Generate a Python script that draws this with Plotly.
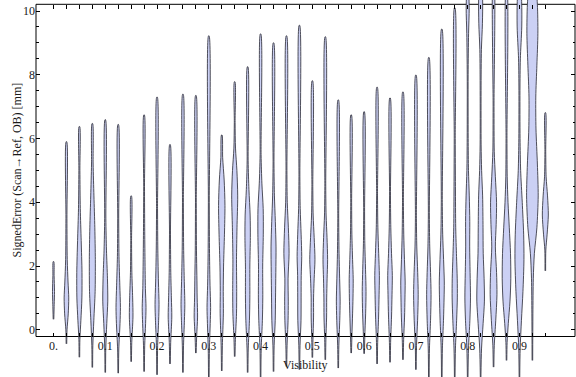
import plotly.graph_objects as go

# ---------------- data ----------------
visibility = [0.0, 0.025, 0.05, 0.075, 0.1, 0.125, 0.15, 0.175, 0.2, 0.225,
              0.25, 0.275, 0.3, 0.325, 0.35, 0.375, 0.4, 0.425, 0.45, 0.475,
              0.5, 0.525, 0.55, 0.575, 0.6, 0.625, 0.65, 0.675, 0.7, 0.725,
              0.75, 0.775, 0.8, 0.825, 0.85, 0.875, 0.9, 0.925, 0.95]

# density profile of each violin: error levels (mm) and relative density
dens_y = [
    [0.33, 0.8, 1.2, 1.7, 2.14],
    [-0.44, 0.0, 0.5, 1.0, 1.5, 2.2, 3.5, 5.9],
    [-0.86, -0.3, 0.3, 1.0, 1.8, 2.8, 3.8, 5.0, 6.375],
    [-1.18, -0.5, 0.3, 1.2, 2.2, 3.2, 4.2, 5.2, 6.47],
    [-1.34, -0.6, 0.2, 0.9, 1.6, 2.5, 3.5, 6.59],
    [-1.36, -0.6, 0.2, 0.7, 1.4, 2.3, 3.5, 6.44],
    [-1.0, -0.4, 0.4, 1.0, 1.8, 2.8, 4.2],
    [-1.31, -0.5, 0.2, 0.7, 1.3, 2.2, 3.2, 4.5, 6.74],
    [-1.41, -0.5, 0.3, 0.8, 1.5, 2.5, 3.8, 7.3],
    [-1.07, -0.4, 0.4, 1.0, 1.8, 3.0, 5.81],
    [-1.34, -0.5, 0.3, 0.8, 1.6, 2.6, 4.0, 7.39],
    [-0.73, -0.2, 0.4, 1.0, 1.7, 2.5, 4.0, 7.35],
    [-1.5, -0.6, 0.2, 0.7, 1.4, 2.4, 4.0, 9.22],
    [-1.29, -0.5, 0.5, 1.2, 2.0, 3.0, 3.9, 4.7, 5.4, 6.11],
    [-0.84, -0.3, 0.5, 1.2, 2.2, 3.2, 4.2, 5.0, 5.7, 6.5, 7.78],
    [-1.34, -0.6, 0.3, 1.0, 2.0, 2.9, 3.6, 4.4, 5.3, 8.25],
    [-1.5, -0.6, 0.3, 1.0, 2.0, 3.0, 3.8, 4.6, 5.5, 9.28],
    [-1.31, -0.5, 0.3, 1.0, 1.8, 2.6, 3.4, 4.2, 5.2, 9.0],
    [-1.15, -0.5, 0.3, 0.9, 1.6, 2.4, 3.2, 4.0, 5.0, 9.22],
    [-1.25, -0.5, 0.3, 1.0, 1.7, 2.3, 3.0, 3.8, 4.8, 9.55],
    [-0.87, -0.3, 0.4, 1.0, 1.6, 2.2, 2.9, 3.6, 4.5, 7.81],
    [-0.94, -0.3, 0.4, 1.0, 1.6, 2.2, 2.9, 3.6, 4.5, 9.19],
    [-1.2, -0.5, 0.3, 0.9, 1.6, 2.4, 3.5, 7.21],
    [-0.73, -0.2, 0.5, 1.0, 1.6, 2.2, 3.0, 4.0, 6.74],
    [-0.75, -0.2, 0.5, 1.2, 1.9, 2.7, 3.7, 6.84],
    [-1.07, -0.4, 0.4, 1.1, 1.7, 2.4, 3.2, 4.2, 7.61],
    [-1.02, -0.4, 0.4, 1.1, 1.7, 2.4, 3.2, 4.2, 7.27],
    [-0.94, -0.3, 0.4, 1.0, 1.5, 2.2, 3.0, 4.0, 7.46],
    [-1.25, -0.5, 0.3, 1.1, 1.8, 2.6, 3.5, 7.99],
    [-1.5, -0.6, 0.3, 1.1, 1.8, 2.6, 3.6, 8.54],
    [-1.5, -0.6, 0.3, 1.0, 1.5, 2.2, 3.0, 4.0, 9.43],
    [-1.5, -0.6, 0.3, 1.0, 1.6, 2.3, 3.2, 4.5, 6.0, 10.1],
    [-1.5, -0.6, 0.3, 1.0, 1.8, 2.6, 3.4, 4.2, 5.0, 6.0, 8.0, 9.3, 10.1, 10.8],
    [-1.5, -0.6, 0.2, 0.9, 1.6, 2.4, 3.2, 4.2, 5.0, 5.8, 7.5, 8.8, 9.6, 10.4, 11.3],
    [-1.17, -0.5, 0.3, 1.1, 1.8, 2.6, 3.3, 4.0, 4.8, 5.6, 7.0, 11.2],
    [-0.96, -0.4, 0.2, 0.9, 1.6, 2.4, 3.2, 4.0, 4.8, 6.0, 10.8],
    [-1.5, -0.6, 0.3, 1.2, 2.2, 3.0, 4.0, 5.0, 6.0, 7.5, 8.5, 9.5, 10.3, 11.2],
    [-0.96, 0.5, 1.6, 2.4, 3.2, 4.2, 5.2, 6.3, 7.3, 8.3, 9.3, 10.2, 11.0, 11.5],
    [1.85, 2.5, 3.0, 3.6, 4.2, 4.8, 5.6, 6.81],
]
dens_w = [
    [0.3, 0.7, 1.0, 0.6, 0.3],
    [0.3, 0.6, 1.8, 2.3, 1.6, 0.8, 0.5, 0.3],
    [0.3, 0.5, 1.5, 2.5, 2.6, 1.8, 0.9, 0.5, 0.3],
    [0.3, 0.5, 1.5, 2.8, 3.0, 2.5, 1.6, 0.8, 0.3],
    [0.3, 0.5, 1.5, 2.5, 2.2, 1.2, 0.6, 0.3],
    [0.3, 0.6, 1.8, 2.2, 1.6, 0.8, 0.5, 0.3],
    [0.3, 0.6, 1.8, 1.5, 0.7, 0.4, 0.3],
    [0.3, 0.6, 1.5, 1.9, 1.3, 0.9, 0.6, 0.4, 0.3],
    [0.3, 0.6, 1.6, 2.0, 1.4, 0.8, 0.5, 0.3],
    [0.3, 0.7, 1.8, 1.4, 0.8, 0.5, 0.3],
    [0.3, 0.6, 1.5, 1.9, 1.3, 0.7, 0.45, 0.3],
    [0.3, 0.8, 1.7, 1.3, 1.0, 0.6, 0.4, 0.3],
    [0.3, 0.6, 1.4, 1.8, 1.2, 0.7, 0.45, 0.3],
    [0.3, 0.6, 1.6, 1.5, 1.8, 2.7, 3.2, 2.4, 0.9, 0.3],
    [0.3, 0.7, 1.8, 2.0, 1.8, 2.3, 3.0, 2.2, 0.8, 0.4, 0.3],
    [0.3, 0.6, 1.8, 2.2, 2.2, 2.7, 2.5, 1.3, 0.5, 0.3],
    [0.3, 0.6, 1.8, 2.2, 2.1, 2.7, 2.6, 1.3, 0.5, 0.3],
    [0.3, 0.6, 1.7, 2.0, 2.3, 2.5, 1.8, 0.9, 0.45, 0.3],
    [0.3, 0.6, 1.6, 1.8, 1.6, 2.6, 1.9, 0.8, 0.45, 0.3],
    [0.3, 0.6, 1.6, 1.7, 1.8, 2.3, 1.7, 0.8, 0.45, 0.3],
    [0.3, 0.6, 1.2, 1.2, 1.8, 2.6, 1.8, 0.8, 0.45, 0.3],
    [0.3, 0.6, 1.3, 1.4, 1.8, 2.3, 1.7, 0.8, 0.45, 0.3],
    [0.3, 0.6, 1.5, 1.9, 1.4, 0.8, 0.45, 0.3],
    [0.3, 0.7, 1.4, 1.8, 2.0, 1.4, 0.7, 0.45, 0.3],
    [0.3, 0.7, 1.5, 1.9, 1.4, 0.7, 0.45, 0.3],
    [0.3, 0.6, 1.5, 2.0, 2.3, 1.6, 0.8, 0.45, 0.3],
    [0.3, 0.6, 1.5, 2.0, 2.3, 1.5, 0.8, 0.45, 0.3],
    [0.3, 0.7, 1.6, 2.0, 2.2, 1.5, 0.8, 0.45, 0.3],
    [0.3, 0.6, 1.7, 2.3, 1.8, 0.9, 0.5, 0.3],
    [0.3, 0.6, 1.7, 2.2, 1.7, 0.9, 0.5, 0.3],
    [0.3, 0.6, 1.7, 2.3, 2.5, 1.8, 0.9, 0.5, 0.3],
    [0.3, 0.7, 1.9, 2.6, 2.5, 1.8, 1.0, 0.7, 0.5, 0.3],
    [0.3, 0.8, 2.2, 2.8, 2.4, 2.0, 2.1, 1.6, 0.8, 0.5, 0.45, 0.9, 1.5, 0.3],
    [0.3, 0.9, 2.5, 3.8, 3.5, 2.6, 2.4, 2.0, 1.0, 0.5, 0.45, 0.8, 1.8, 2.0, 0.3],
    [0.3, 0.7, 2.2, 3.4, 3.0, 1.8, 2.6, 3.0, 1.8, 0.7, 0.45, 0.3],
    [0.3, 0.6, 1.8, 3.5, 4.3, 4.0, 2.8, 1.5, 0.7, 0.45, 0.3],
    [0.3, 0.7, 2.0, 3.5, 4.5, 4.2, 2.8, 1.2, 0.6, 0.5, 0.9, 2.3, 2.2, 0.3],
    [0.3, 0.5, 0.9, 2.0, 4.5, 5.8, 5.0, 3.6, 3.4, 4.5, 5.5, 5.0, 3.0, 0.3],
    [0.3, 0.5, 1.8, 3.0, 2.2, 0.8, 0.4, 0.3],
]

x_ticks = visibility
x_ticktext = ["0." if v == 0 else ("%.1f" % v if round(v * 40) % 4 == 0 else "")
              for v in visibility]
y_major = [0, 2, 4, 6, 8, 10]
y_minor = [0.5, 1, 1.5, 2.5, 3, 3.5, 4.5, 5, 5.5, 6.5, 7, 7.5, 8.5, 9, 9.5]

# ---------------- style ----------------
W_SCALE = 1 / 517.7          # density unit -> x data units
FILL = "rgb(203,208,244)"
EDGE = "rgba(50,50,62,0.85)"
FONT = "Liberation Serif"
FS = 12
TXT = "#1a1a1a"
X_RANGE = [-0.0338, 1.0073]
Y_RANGE = [-1.48, 10.345]
FRAME_LO, FRAME_HI = -0.21, 10.21

fig = go.Figure()
for pos, ys, ws in zip(visibility, dens_y, dens_w):
    xs = [pos + w * W_SCALE for w in ws] + [pos - w * W_SCALE for w in ws[::-1]]
    yy = list(ys) + list(ys[::-1])
    fig.add_trace(go.Scatter(
        x=xs, y=yy, mode="lines", fill="toself", fillcolor=FILL,
        line=dict(color=EDGE, width=1.0, shape="spline", smoothing=0.8),
        hoverinfo="skip", showlegend=False))

# dummy trace for the top tick axis
fig.add_trace(go.Scatter(x=[visibility[0]], y=[None], xaxis="x2", yaxis="y",
                         mode="markers", showlegend=False, hoverinfo="skip"))

span = Y_RANGE[1] - Y_RANGE[0]
pos_bottom = (FRAME_LO - Y_RANGE[0]) / span
pos_top = (FRAME_HI - Y_RANGE[0]) / span

fig.update_layout(
    width=576, height=377,
    margin=dict(l=36, r=1, t=0, b=0, autoexpand=False),
    paper_bgcolor="white", plot_bgcolor="white",
    font=dict(family=FONT, size=FS, color=TXT),
    xaxis=dict(range=X_RANGE, anchor="free", position=pos_bottom,
               automargin=False,
               tickvals=x_ticks, ticktext=x_ticktext, ticks="inside",
               ticklen=3.5, tickcolor="black", tickwidth=1,
               showline=False, showgrid=False, zeroline=False,
               tickfont=dict(family=FONT, size=FS, color=TXT)),
    xaxis2=dict(range=X_RANGE, overlaying="x", anchor="free",
                position=pos_top, side="top", tickvals=x_ticks,
                automargin=False,
                showticklabels=False, ticks="inside", ticklen=3.5,
                tickcolor="black", showline=False, showgrid=False,
                zeroline=False),
    yaxis=dict(range=Y_RANGE, tickvals=y_major, automargin=False,
               ticktext=[str(v) for v in y_major],
               ticks="inside", ticklen=4, tickcolor="black", mirror="ticks",
               showline=False, showgrid=False, zeroline=False,
               minor=dict(tickvals=y_minor, ticks="inside", ticklen=2.5,
                          tickcolor="black", showgrid=False),
               tickfont=dict(family=FONT, size=FS, color=TXT)),
    shapes=[dict(type="rect", xref="paper", yref="y", x0=0, x1=1,
                 y0=FRAME_LO, y1=FRAME_HI, line=dict(color="black", width=1),
                 layer="below")],
    annotations=[
        dict(text="SignedError (Scan\u2192Ref, OB) [mm]",
             xref="paper", yref="y", x=0, y=(FRAME_LO + FRAME_HI) / 2,
             xshift=-28, textangle=-90, showarrow=False,
             font=dict(family=FONT, size=FS, color=TXT)),
        dict(text="Visibility", xref="paper", yref="y", x=0.5, y=FRAME_LO,
             yshift=-28, showarrow=False,
             font=dict(family=FONT, size=FS, color=TXT)),
    ],
)

fig.write_html("out.html", config={"displayModeBar": False},
               post_script="document.body.style.margin='0px';"
                           "document.body.style.overflow='hidden';")
